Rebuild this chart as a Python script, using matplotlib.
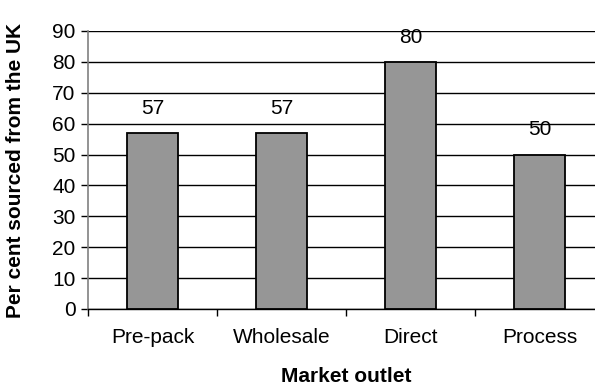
import matplotlib
matplotlib.use("Agg")
import matplotlib.pyplot as plt
import numpy as np

plt.rcParams['font.family'] = ['Liberation Sans', 'DejaVu Sans']

categories = ["Pre-pack", "Wholesale", "Direct", "Process"]
values = [57, 57, 80, 50]
yticks = [0, 10, 20, 30, 40, 50, 60, 70, 80, 90]

FS = 15

fig = plt.figure(figsize=(5.95, 3.88), dpi=100)
ax = fig.add_axes([88/595, 1-309/388, 516/595, 278/388])

x = np.arange(len(categories))
ax.bar(x, values, width=0.4, color="#969696", edgecolor="black", linewidth=1.3, zorder=3)

for xi, v in zip(x, values):
    ax.annotate(str(v), (xi, v), xytext=(0, 11), textcoords="offset points",
                ha="center", va="bottom", fontsize=FS)

ax.set_xlim(-0.5, len(categories) - 0.5)
ax.set_ylim(0, 90)
ax.set_yticks(yticks)
ax.set_yticklabels([str(t) for t in yticks], fontsize=FS)
ax.yaxis.grid(True, color="black", linewidth=1.0, zorder=0)
ax.set_axisbelow(True)

# Category boundaries carry the tick marks; labels sit at the centres
ax.set_xticks(np.arange(-0.5, len(categories)), minor=False)
ax.set_xticklabels([])
ax.set_xticks(x, minor=True)
ax.set_xticklabels(categories, minor=True, fontsize=FS)
ax.tick_params(axis="x", which="minor", length=0, pad=14)
ax.tick_params(axis="x", which="major", length=5, width=1, color="black", direction="out")
ax.tick_params(axis="y", length=5, width=1, color="black", direction="out", pad=4)

for side in ("top", "right"):
    ax.spines[side].set_visible(False)
ax.spines["left"].set_color("#808080")
ax.spines["left"].set_linewidth(1.2)
ax.spines["bottom"].set_color("black")
ax.spines["bottom"].set_linewidth(1.0)

ax.set_ylabel("Per cent sourced from the UK", fontsize=FS, fontweight="bold")
ax.yaxis.set_label_coords(-(88-25)/516, 0.5)
ax.set_xlabel("Market outlet", fontsize=FS, fontweight="bold", va="center")
ax.xaxis.set_label_coords(0.5, -(377-309)/278)

fig.savefig("out.png", dpi=100)
